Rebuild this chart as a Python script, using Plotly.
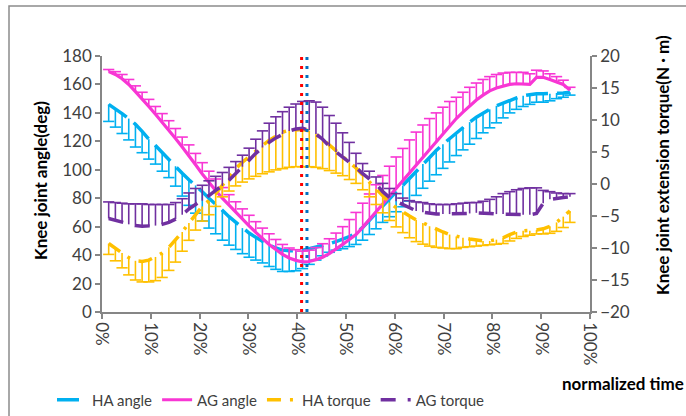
import plotly.graph_objects as go

# normalized time (%) of each sample
x_pct = [1.37, 2.74, 4.11, 5.48, 6.85, 8.22, 9.59, 10.96, 12.33, 13.70,
         15.07, 16.44, 17.81, 19.18, 20.55, 21.92, 23.29, 24.66, 26.03, 27.40,
         28.77, 30.14, 31.51, 32.88, 34.25, 35.62, 36.99, 38.36, 39.73, 41.10,
         42.47, 43.84, 45.21, 46.58, 47.95, 49.32, 50.68, 52.05, 53.42, 54.79,
         56.16, 57.53, 58.90, 60.27, 61.64, 63.01, 64.38, 65.75, 67.12, 68.49,
         69.86, 71.23, 72.60, 73.97, 75.34, 76.71, 78.08, 79.45, 80.82, 82.19,
         83.56, 84.93, 86.30, 87.67, 89.04, 90.41, 91.78, 93.15, 94.52, 95.89]

ha_angle = [146, 143, 139.5, 136, 132, 127, 121.5, 117, 112, 107.5,
            102.5, 97.5, 93, 89, 84.5, 80, 76, 71.5, 67, 63,
            59, 55.5, 52.5, 49.5, 47, 45, 43.5, 43, 43, 43.5,
            44.5, 45.5, 46.5, 48, 49.5, 51, 53, 55.5, 59.5, 64.5,
            69.5, 75, 80, 84.5, 89, 94, 99, 104, 109, 113.5,
            118, 122, 126, 130, 133.5, 137, 140, 142.5, 145, 147,
            149, 150.5, 152, 153, 153.5, 153.5, 153.5, 154, 154, 154.5]
ha_angle_err = [12, 13, 14, 15, 16, 15, 14, 13, 13, 13,
                14, 16, 18, 19.5, 20.5, 21, 21, 21, 20, 19,
                18, 17, 16, 15, 15, 15, 15, 14.5, 14, 13,
                11, 9, 7, 6, 6, 6.5, 7, 8, 9, 10,
                11, 12, 13, 14, 15, 16, 17, 17, 17, 17,
                17, 16.5, 16, 16, 15.5, 15, 14, 13, 12, 10.5,
                9, 8, 7.5, 7, 6, 6, 5, 4, 3, 2]

ag_angle = [169, 167, 164, 160, 155, 150, 144.5, 139, 133.5, 128,
            122, 116, 110, 103.5, 97, 91, 85.5, 80, 75, 70,
            65, 60.5, 56, 51.5, 47.5, 44, 40.5, 38, 36.3, 35.3,
            35.5, 36.8, 38.5, 41, 44, 47.5, 51, 54.5, 59.5, 65,
            70.5, 76, 81.5, 87, 92.5, 98, 103.5, 109, 114.5, 120,
            125.5, 131, 136, 140.5, 145, 149, 152.5, 155.5, 157.5, 159,
            160, 160.5, 160.5, 160, 165, 165, 163.5, 162, 160, 156]
ag_angle_err = [1.5, 2, 3, 3.5, 4, 4.5, 5, 5.5, 6, 6.5,
                7, 7, 7.5, 8, 8, 8, 8, 7.5, 7.5, 7.5,
                7.5, 7.5, 7.5, 7.5, 7.5, 7, 7, 7, 7.5, 7.5,
                8, 8.5, 9.5, 10.5, 11.5, 12.5, 14, 15.5, 17, 18,
                19, 20, 21, 22, 22.5, 23, 23, 22.5, 21.5, 20,
                18.5, 17, 15, 14, 13, 12, 11, 10, 9.5, 9,
                8.5, 8, 8, 7.5, 5, 4.5, 4, 3.5, 3, 2]

ha_torque = [-9.3, -10.0, -10.8, -11.5, -12.0, -12.1, -11.9, -11.4, -10.8, -9.9,
             -8.8, -7.5, -6.1, -4.7, -3.5, -2.6, -1.5, -0.2, 1.2, 2.4,
             3.4, 4.3, 5.2, 6.0, 6.8, 7.5, 8.1, 8.4, 8.5, 8.5,
             8.3, 7.8, 7.0, 6.1, 5.2, 4.3, 3.4, 2.5, 1.4, 0.3,
             -0.8, -1.9, -2.9, -3.7, -4.4, -5.0, -5.6, -6.1, -6.6, -7.1,
             -7.5, -7.9, -8.2, -8.4, -8.6, -8.8, -8.9, -8.9, -8.7, -8.4,
             -7.9, -7.5, -7.3, -7.3, -7.2, -7.0, -6.6, -6.0, -5.1, -4.2]
ha_torque_err = [1.7, 2.0, 2.3, 2.7, 3.0, 3.2, 3.4, 3.7, 3.8, 3.6,
                 3.4, 3.0, 2.7, 2.5, 2.3, 2.2, 2.0, 1.8, 2.3, 2.7,
                 3.1, 3.5, 4.0, 4.4, 4.9, 5.3, 5.7, 5.8, 5.8, 5.8,
                 5.6, 5.2, 4.6, 4.0, 3.5, 3.0, 2.7, 2.4, 2.3, 2.3,
                 2.4, 2.6, 2.8, 3.0, 3.2, 3.4, 3.4, 3.3, 3.1, 2.8,
                 2.5, 2.2, 1.9, 1.5, 1.2, 0.9, 0.7, 0.6, 0.7, 0.9,
                 1.0, 1.0, 0.9, 0.7, 0.6, 0.8, 1.1, 1.4, 1.7, 1.8]

ag_torque = [-5.4, -5.7, -6.0, -6.3, -6.5, -6.6, -6.6, -6.5, -6.3, -6.0,
             -5.5, -4.8, -3.9, -3.2, -2.6, -1.8, -1.0, -0.3, 0.6, 1.6,
             2.7, 3.7, 4.8, 5.7, 6.5, 7.2, 7.8, 8.3, 8.6, 8.7,
             8.4, 7.8, 7.0, 5.9, 5.0, 4.2, 3.5, 2.6, 1.6, 0.8,
             0.0, -1.2, -2.1, -2.7, -3.2, -3.8, -4.2, -4.4, -4.6, -4.7,
             -4.7, -4.7, -4.7, -4.7, -4.6, -4.5, -4.5, -4.6, -4.7, -4.7,
             -4.8, -4.8, -4.8, -4.8, -4.6, -3.0, -2.4, -2.2, -2.1, -2.0]
ag_torque_err = [2.6, 2.8, 3.0, 3.2, 3.4, 3.5, 3.4, 3.3, 3.1, 2.8,
                 2.6, 2.5, 2.5, 2.5, 2.4, 2.3, 2.2, 2.1, 2.0, 1.9,
                 1.8, 1.9, 2.2, 2.6, 3.0, 3.3, 3.5, 3.7, 3.9, 4.2,
                 4.6, 5.0, 5.0, 4.8, 4.5, 3.8, 3.0, 2.2, 1.6, 1.2,
                 1.1, 1.3, 1.4, 1.2, 1.0, 1.2, 1.4, 1.5, 1.5, 1.5,
                 1.5, 1.5, 1.6, 1.7, 1.7, 1.6, 1.8, 2.2, 2.7, 3.2,
                 3.6, 3.9, 4.1, 4.2, 4.0, 2.0, 1.2, 0.8, 0.6, 0.5]

# vertical reference markers (normalized time)
red_marker_x = 0.409
blue_marker_x = 0.420

x_tick_vals = [0, 0.1, 0.2, 0.3, 0.4, 0.5, 0.6, 0.7, 0.8, 0.9, 1.0]

x = [v / 100 for v in x_pct]

C_HA_ANG = "#00B0F0"
C_AG_ANG = "#F836D4"
C_HA_TQ = "#FFC000"
C_AG_TQ = "#7030A0"
AXIS_C = "#868686"
TXT_C = "#404040"
FONT = "Lato"

series = [
    # name, values, errors, direction, color, dash, width, axis
    ("HA angle", ha_angle, ha_angle_err, -1, C_HA_ANG, "22px,9px", 3.5, "y"),
    ("AG angle", ag_angle, ag_angle_err, 1, C_AG_ANG, "solid", 3.2, "y"),
    ("HA torque", ha_torque, ha_torque_err, -1, C_HA_TQ, "14px,9px,3px,9px", 3.5, "y2"),
    ("AG torque", ag_torque, ag_torque_err, 1, C_AG_TQ, "15px,12px", 3.5, "y2"),
]

fig = go.Figure()
for name, vals, errs, direction, col, dash, w, ax in series:
    zeros = [0] * len(errs)
    plus = errs if direction > 0 else zeros
    minus = errs if direction < 0 else zeros
    fig.add_trace(go.Scatter(
        x=x, y=vals, yaxis=ax, name=name, mode="lines",
        line=dict(color=col, width=w, dash=dash),
        error_y=dict(type="data", symmetric=False, array=plus, arrayminus=minus,
                     color=col, thickness=1.6, width=0),
    ))
    caps = [v + direction * e for v, e in zip(vals, errs)]
    fig.add_trace(go.Scatter(
        x=x, y=caps, yaxis=ax, mode="markers", showlegend=False, hoverinfo="skip",
        marker=dict(symbol="line-ew", size=8, line=dict(color=col, width=1.6)),
    ))

for xv, col in [(red_marker_x, "#FF0000"), (blue_marker_x, "#0070C0")]:
    fig.add_shape(type="line", xref="x", yref="paper", x0=xv, x1=xv, y0=0, y1=1,
                  line=dict(color=col, width=3, dash="3px,6px"))

# chart border
fig.add_shape(type="rect", xref="paper", yref="paper",
              x0=(9 - 102) / 488, x1=2.0, y0=-1.0, y1=(312 - 6) / 256,
              line=dict(color="#8C8C8C", width=1.5), fillcolor="rgba(0,0,0,0)")

tick_font = dict(family=FONT, size=17, color=TXT_C)
title_font = dict(family=FONT, size=17, color="#000000")

fig.update_layout(
    width=686, height=416,
    margin=dict(l=102, r=96, t=56, b=104, autoexpand=False),
    paper_bgcolor="white", plot_bgcolor="white",
    showlegend=True,
    legend=dict(orientation="h", x=(52 - 102) / 488, xanchor="left",
                y=(312 - 400) / 256, yanchor="middle",
                font=dict(family=FONT, size=15, color=TXT_C),
                bgcolor="rgba(0,0,0,0)", itemwidth=30, tracegroupgap=0),
    xaxis=dict(range=[0, 1], tickvals=x_tick_vals, tickformat=".0%", tickangle=90,
               showline=True, linecolor=AXIS_C, linewidth=1.5,
               ticks="outside", ticklen=5, tickcolor=AXIS_C, tickwidth=1.5,
               showgrid=False, zeroline=False, tickfont=tick_font),
    yaxis=dict(range=[0, 180], dtick=20, showline=True, linecolor=AXIS_C, linewidth=1.5,
               ticks="outside", ticklen=5, tickcolor=AXIS_C, tickwidth=1.5,
               showgrid=False, zeroline=False, tickfont=tick_font),
    yaxis2=dict(range=[-20, 20], dtick=5, overlaying="y", side="right", anchor="x",
                showline=True, linecolor=AXIS_C, linewidth=1.5,
                ticks="outside", ticklen=5, tickcolor=AXIS_C, tickwidth=1.5,
                showgrid=False, zeroline=False, tickfont=tick_font),
    annotations=[
        dict(text="<b>Knee joint angle(deg)</b>", xref="paper", yref="paper",
             x=(40 - 102) / 488, y=(312 - 181) / 256, textangle=-90,
             showarrow=False, font=title_font, xanchor="center", yanchor="middle"),
        dict(text="<b>Knee joint extension torque(N · m)</b>", xref="paper", yref="paper",
             x=(662 - 102) / 488, y=(312 - 165) / 256, textangle=-90,
             showarrow=False, font=title_font, xanchor="center", yanchor="middle"),
        dict(text="<b>normalized time</b>", xref="paper", yref="paper",
             x=(686 - 102) / 488, y=(312 - 383) / 256, xanchor="right", yanchor="middle",
             showarrow=False, font=title_font),
    ],
)

fig.write_html("out.html")
